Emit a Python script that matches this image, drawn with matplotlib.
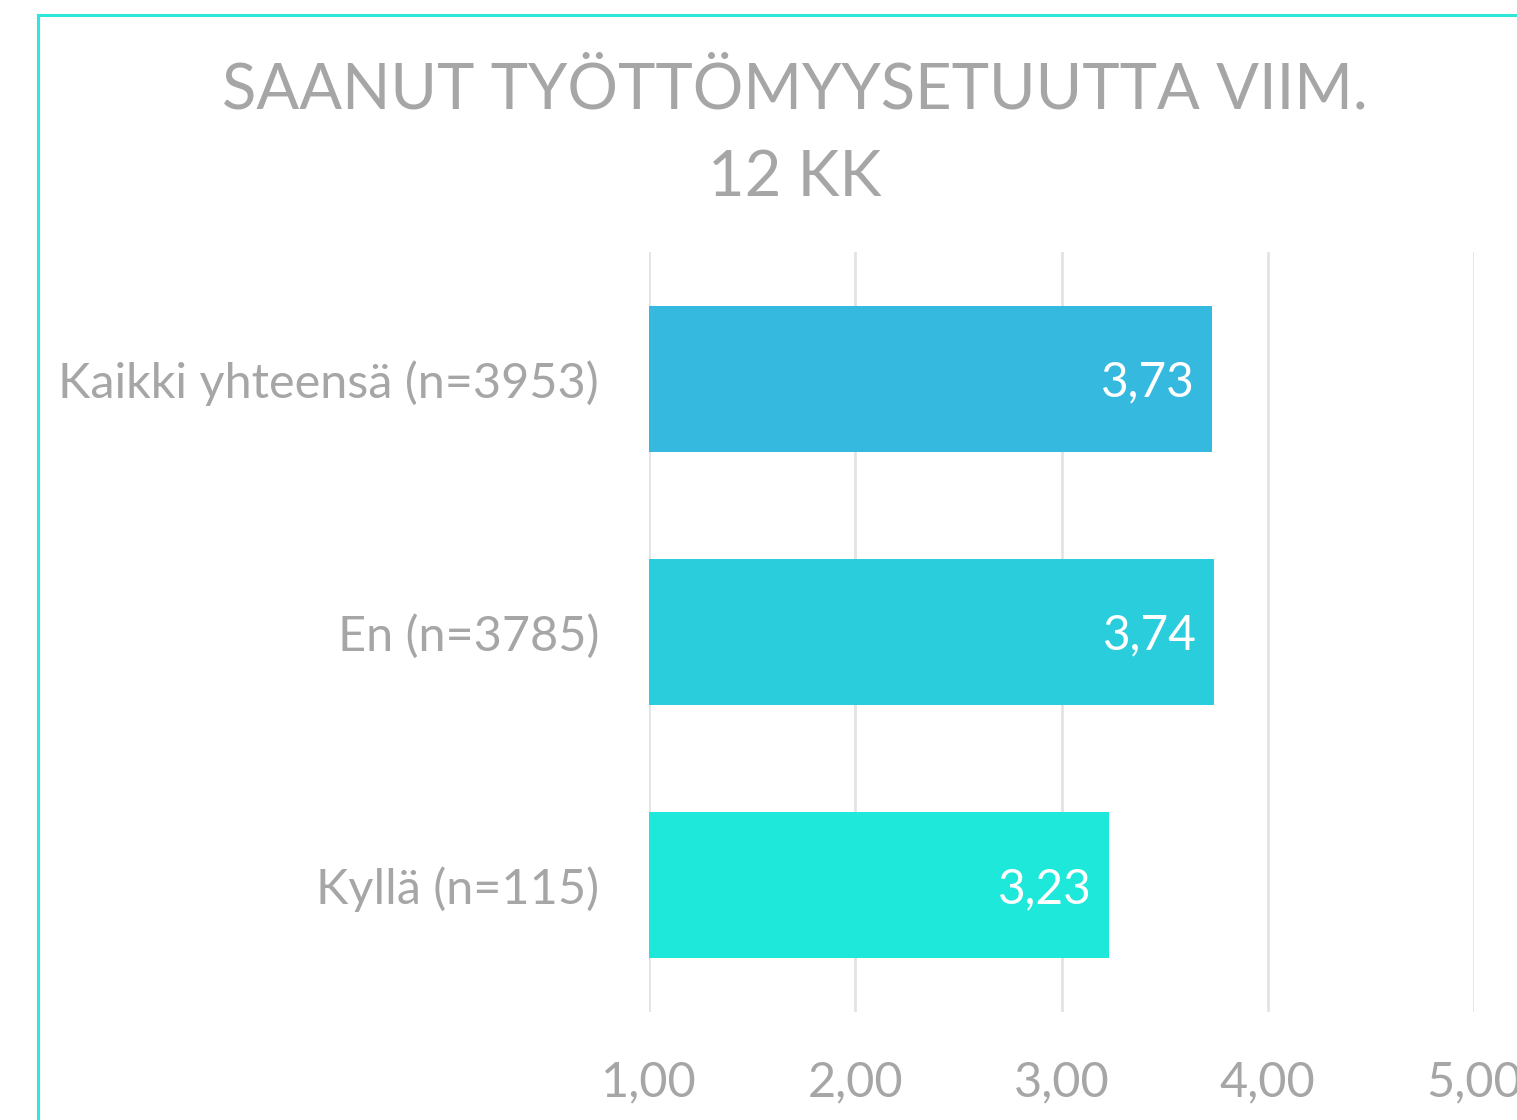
import matplotlib.pyplot as plt
from matplotlib.patches import Rectangle

categories = ['Kaikki yhteensä (n=3953)', 'En (n=3785)', 'Kyllä (n=115)']
values = [3.73, 3.74, 3.23]
bar_colors = ['#35B9DF', '#29CDDC', '#1EE8D9']
ticks = [1, 2, 3, 4, 5]
tick_labels = ['1,00', '2,00', '3,00', '4,00', '5,00']
title = 'SAANUT TYÖTTÖMYYSETUUTTA VIIM.\n12 KK'

gray = '#A6A6A6'
plt.rcParams['font.family'] = ['Lato', 'DejaVu Sans']

W, H = 1517, 1120
fig = plt.figure(figsize=(W / 100, H / 100), dpi=100)
fig.patch.set_facecolor('white')

# outer frame (cut off at right and bottom like the source)
fig.patches.append(Rectangle((38 / W, -0.1), 1.2, 1 - 15 / H + 0.1, transform=fig.transFigure,
                             fill=False, edgecolor='#2DE8D8', linewidth=2.2, zorder=0))

ax = fig.add_axes([649 / W, 1 - 1012 / H, 825 / W, 760 / H])
pos = list(range(len(categories)))
ax.barh(pos, [v - 1 for v in values], left=1, height=0.577, color=bar_colors, zorder=2)

for p, v in zip(pos, values):
    ax.text(v - 0.085, p + 0.015, ('%.2f' % v).replace('.', ','), ha='right', va='center',
            color='white', fontsize=34.5, zorder=3)

ax.set_xlim(1, 5)
ax.set_ylim(2.5, -0.5)
ax.set_xticks(ticks)
ax.set_xticklabels(tick_labels)
ax.set_yticks(pos)
ax.set_yticklabels(categories)
ax.tick_params(axis='both', length=0, labelcolor=gray)
ax.tick_params(axis='x', pad=35, labelsize=35)
ax.tick_params(axis='y', pad=36, labelsize=35)
ax.grid(axis='x', color='#E3E3E3', linewidth=2, zorder=0)
ax.set_axisbelow(True)
for s in ax.spines.values():
    s.set_visible(False)
for lab in ax.get_xticklabels():
    lab.set_clip_on(False)

fig.text(795 / W, 1 - 134 / H, title, ha='center', va='center', color=gray,
         fontsize=45.5, linespacing=1.62, multialignment='center')

fig.savefig('out.png', dpi=100)
